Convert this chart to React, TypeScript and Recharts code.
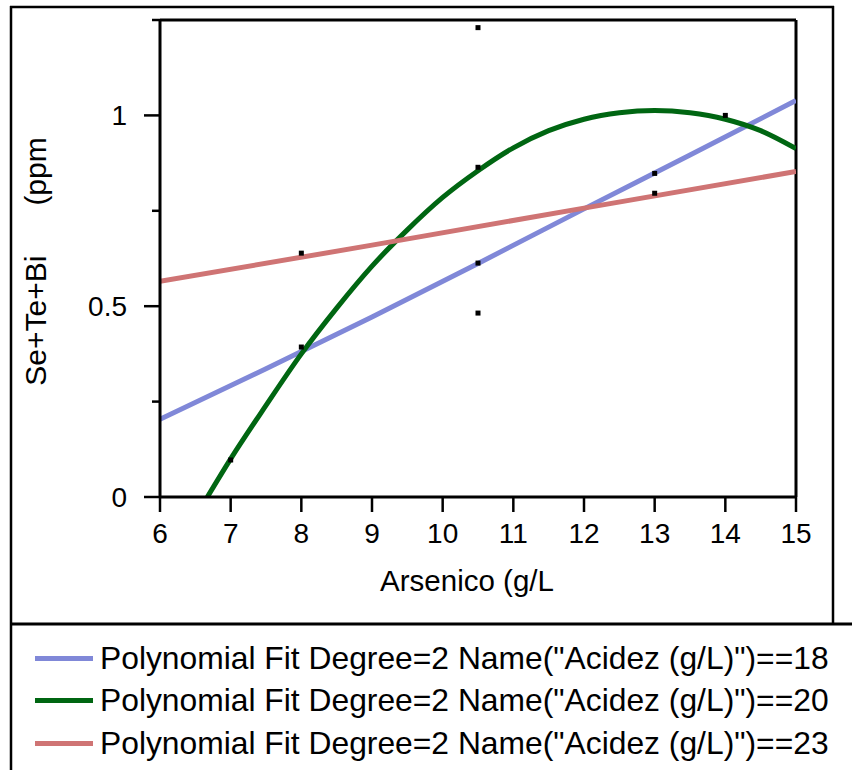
import {
  ComposedChart,
  Line,
  Scatter,
  XAxis,
  YAxis,
  ReferenceLine,
} from "recharts"

const FONT = '"Liberation Sans", Arial, sans-serif'

// x ticks (Arsenico g/L) and y ticks (Se+Te+Bi ppm)
const xTicks = [6, 7, 8, 9, 10, 11, 12, 13, 14, 15]
const yTicks = [0, 0.25, 0.5, 0.75, 1, 1.25]

// measured samples
const sampleX = [7, 8, 8, 10.5, 10.5, 10.5, 10.5, 13, 13, 14]
const sampleY = [0.097, 0.393, 0.639, 0.482, 0.613, 0.864, 1.23, 0.796, 0.848, 1.0]

// fitted curves
const fit18X = [6, 7.5, 9, 10.5, 12, 13.5, 15]
const fit18Y = [0.204, 0.336, 0.472, 0.612, 0.755, 0.896, 1.039]

const fit20X = [6.67, 7, 7.5, 8, 8.5, 9, 9.5, 10, 10.5, 11, 11.5, 12, 12.5, 13, 13.5, 14, 14.5, 15]
const fit20Y = [0, 0.1, 0.24, 0.375, 0.495, 0.605, 0.7, 0.785, 0.855, 0.915, 0.96, 0.99, 1.007, 1.013, 1.007, 0.99, 0.96, 0.913]

const fit23X = [6, 9, 12, 15]
const fit23Y = [0.565, 0.66, 0.757, 0.853]

const seriesNames = [
  'Polynomial Fit Degree=2 Name("Acidez (g/L)")==18',
  'Polynomial Fit Degree=2 Name("Acidez (g/L)")==20',
  'Polynomial Fit Degree=2 Name("Acidez (g/L)")==23',
]
const seriesColors = ["#8088d8", "#006612", "#cf7474"]

const zip = (xs: number[], ys: number[]) => xs.map((x, i) => ({ x, y: ys[i] }))

const samples = zip(sampleX, sampleY)
const fit18 = zip(fit18X, fit18Y)
const fit20 = zip(fit20X, fit20Y)
const fit23 = zip(fit23X, fit23Y)

const Y_TICK_SIZE = 16
const Y_TICK_MARGIN = 17

function YTick(props: any) {
  const { x, y, payload } = props
  const v = payload.value as number
  const major = Math.abs(v % 0.5) < 1e-9
  const axisX = x + Y_TICK_SIZE + Y_TICK_MARGIN
  return (
    <g>
      <line
        x1={axisX - (major ? 16 : 8)}
        x2={axisX}
        y1={y}
        y2={y}
        stroke="#000"
        strokeWidth={2.5}
      />
      {major && (
        <text
          x={x}
          y={y}
          dy="0.36em"
          textAnchor="end"
          fontFamily={FONT}
          fontSize={28}
          fill="#000"
        >
          {String(v)}
        </text>
      )}
    </g>
  )
}

function SquareDot(props: any) {
  const { cx, cy } = props
  return <rect x={cx - 2.5} y={cy - 2.5} width={5} height={5} fill="#000" />
}

// legend sits in its own box under the plot frame
function LegendBox() {
  return (
    <div
      style={{
        position: "absolute",
        left: 0,
        top: 637,
        width: 852,
        fontFamily: FONT,
        fontSize: 31.8,
        color: "#000",
      }}
    >
      {seriesNames.map((name, i) => (
        <div
          key={name}
          style={{ height: 42.5, display: "flex", alignItems: "center", whiteSpace: "nowrap" }}
        >
          <div
            style={{
              marginLeft: 35,
              width: 58,
              height: 5,
              background: seriesColors[i],
              marginRight: 7,
            }}
          />
          <span>{name}</span>
        </div>
      ))}
    </div>
  )
}

export default function App() {
  return (
    <div
      style={{
        position: "absolute",
        left: 0,
        top: 0,
        width: 852,
        height: 770,
        background: "#fff",
        fontFamily: FONT,
      }}
    >
      <ComposedChart
        width={852}
        height={624}
        margin={{ top: 20, right: 56, left: 60, bottom: 67 }}
      >
        <XAxis
          type="number"
          dataKey="x"
          domain={[6, 15]}
          ticks={xTicks}
          allowDataOverflow
          height={60}
          tickSize={15}
          tickMargin={11}
          stroke="#000"
          axisLine={{ stroke: "#000", strokeWidth: 3 }}
          tickLine={{ stroke: "#000", strokeWidth: 2.5 }}
          tick={{ fill: "#000", fontSize: 28, fontFamily: FONT }}
          label={{
            content: ({ viewBox }: any) => (
              <text
                x={viewBox.x + viewBox.width / 2 - 11}
                y={viewBox.y + 94}
                textAnchor="middle"
                fontFamily={FONT}
                fontSize={29.5}
                fill="#000"
              >
                Arsenico (g/L
              </text>
            ),
          }}
        />
        <YAxis
          type="number"
          dataKey="y"
          domain={[0, 1.25]}
          ticks={yTicks}
          allowDataOverflow
          width={100}
          tickSize={Y_TICK_SIZE}
          tickMargin={Y_TICK_MARGIN}
          tickLine={false}
          axisLine={{ stroke: "#000", strokeWidth: 3 }}
          tick={<YTick />}
          label={{
            content: ({ viewBox }: any) => {
              const cx = viewBox.x - 14
              const cy = viewBox.y + viewBox.height / 2 + 3
              return (
                <text
                  x={cx}
                  y={cy}
                  transform={`rotate(-90 ${cx} ${cy})`}
                  textAnchor="middle"
                  fontFamily={FONT}
                  fontSize={30}
                  fill="#000"
                  style={{ whiteSpace: "pre" }}
                >
                  {"Se+Te+Bi      (ppm"}
                </text>
              )
            },
          }}
        />
        <ReferenceLine y={1.25} stroke="#000" strokeWidth={3} />
        <ReferenceLine x={15} stroke="#000" strokeWidth={3} />
        <Scatter
          data={samples}
          dataKey="y"
          shape={<SquareDot />}
          legendType="none"
          isAnimationActive={false}
        />
        <Line
          data={fit18}
          dataKey="y"
          name={seriesNames[0]}
          type="monotone"
          stroke={seriesColors[0]}
          strokeWidth={5}
          dot={false}
          activeDot={false}
          isAnimationActive={false}
        />
        <Line
          data={fit20}
          dataKey="y"
          name={seriesNames[1]}
          type="monotone"
          stroke={seriesColors[1]}
          strokeWidth={5}
          dot={false}
          activeDot={false}
          isAnimationActive={false}
        />
        <Line
          data={fit23}
          dataKey="y"
          name={seriesNames[2]}
          type="linear"
          stroke={seriesColors[2]}
          strokeWidth={5}
          dot={false}
          activeDot={false}
          isAnimationActive={false}
        />
      </ComposedChart>
      <LegendBox />
      <svg
        width={852}
        height={770}
        style={{ position: "absolute", left: 0, top: 0, pointerEvents: "none" }}
      >
        <line x1={10} y1={7} x2={834} y2={7} stroke="#000" strokeWidth={2.5} />
        <line x1={11} y1={6} x2={11} y2={770} stroke="#000" strokeWidth={2.5} />
        <line x1={833} y1={6} x2={833} y2={624} stroke="#000" strokeWidth={2.5} />
        <line x1={10} y1={624} x2={852} y2={624} stroke="#000" strokeWidth={3} />
      </svg>
    </div>
  )
}
